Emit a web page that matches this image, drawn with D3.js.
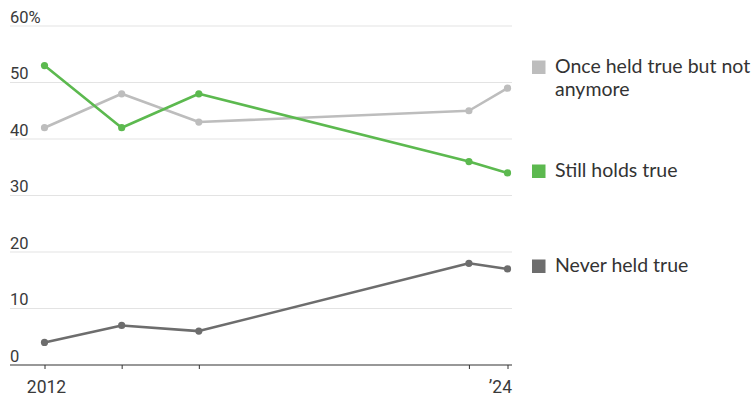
<!DOCTYPE html>
<html>
<head>
<meta charset="utf-8">
<script src="https://cdn.jsdelivr.net/npm/d3@7/dist/d3.min.js"></script>
<style>
  html, body { margin: 0; padding: 0; background: #fff; }
  svg { display: block; font-family: Lato, "Noto Sans", sans-serif; }
  .axis-label { font-family: "Liberation Sans Narrow", "Roboto", sans-serif; }
</style>
</head>
<body>
<svg id="chart" width="751" height="395"></svg>
<script>
// Survey years and shares (%) for each response
const years = [2012, 2014, 2016, 2023, 2024];
const onceHeld = [42, 48, 43, 45, 49];
const stillHolds = [53, 42, 48, 36, 34];
const neverHeld = [4, 7, 6, 18, 17];
const yTicks = [0, 10, 20, 30, 40, 50, 60];
const xTickLabels = { 2012: "2012", 2024: "\u201924" };

const series = [
  { name: "Once held true but not", name2: "anymore", values: onceHeld, color: "#bdbdbd", legendY: 73 },
  { name: "Still holds true", values: stillHolds, color: "#5cb94f", legendY: 177 },
  { name: "Never held true", values: neverHeld, color: "#6d6d6d", legendY: 272 }
];

const svg = d3.select("#chart");
const plotLeft = 10, plotRight = 512, plotTop = 26, plotBottom = 365;

const x = d3.scaleLinear().domain([2012, 2024]).range([44.5, 507.5]);
const y = d3.scaleLinear().domain([0, 60]).range([plotBottom, plotTop]);

// Horizontal gridlines
svg.append("g").selectAll("line")
  .data(yTicks.filter(d => d > 0))
  .join("line")
  .attr("x1", plotLeft).attr("x2", plotRight)
  .attr("y1", d => y(d)).attr("y2", d => y(d))
  .attr("stroke", "#e3e3e3").attr("stroke-width", 1.2);

// Y labels sit just above their gridline
svg.append("g").selectAll("text")
  .data(yTicks)
  .join("text")
  .attr("class", "axis-label")
  .attr("x", plotLeft)
  .attr("y", d => y(d) - 3.5)
  .attr("font-size", 16.5)
  .attr("fill", "#3a3a3a")
  .text(d => d === 60 ? "60%" : d);

// X axis baseline with small ticks
const xAxis = d3.axisBottom(x)
  .tickValues(years)
  .tickSize(4)
  .tickFormat(d => xTickLabels[d] || "");
const gx = svg.append("g").attr("transform", `translate(0,${plotBottom})`).call(xAxis);
gx.select(".domain").remove();
gx.append("line").attr("x1", plotLeft).attr("x2", plotRight).attr("stroke", "#333").attr("stroke-width", 1.2);
gx.selectAll(".tick line").attr("stroke", "#333");
gx.selectAll(".tick text")
  .attr("class", "axis-label")
  .attr("font-size", 17.5)
  .attr("font-family", null)
  .attr("fill", "#3a3a3a")
  .attr("y", 27.5)
  .attr("dy", 0)
  .attr("x", d => d === 2024 ? 4 : 1.5)
  .attr("text-anchor", d => d === 2024 ? "end" : "middle");

// Lines and points
const line = d3.line().x((d, i) => x(years[i])).y(d => y(d));
series.forEach(s => {
  const g = svg.append("g");
  g.append("path")
    .attr("d", line(s.values))
    .attr("fill", "none")
    .attr("stroke", s.color)
    .attr("stroke-width", 2.6)
    .attr("stroke-linejoin", "round");
  g.selectAll("circle")
    .data(s.values)
    .join("circle")
    .attr("cx", (d, i) => x(years[i]))
    .attr("cy", d => y(d))
    .attr("r", 3.6)
    .attr("fill", s.color);
});

// Legend
const legend = svg.append("g");
series.forEach(s => {
  legend.append("rect")
    .attr("x", 532).attr("y", s.legendY - 12.5)
    .attr("width", 13.5).attr("height", 13.5)
    .attr("fill", s.color);
  const t = legend.append("text")
    .attr("x", 555).attr("y", s.legendY)
    .attr("font-size", 19.5)
    .attr("fill", "#333");
  t.append("tspan").attr("x", 555).text(s.name);
  if (s.name2) t.append("tspan").attr("x", 555).attr("dy", 23).text(s.name2);
});
</script>
</body>
</html>
